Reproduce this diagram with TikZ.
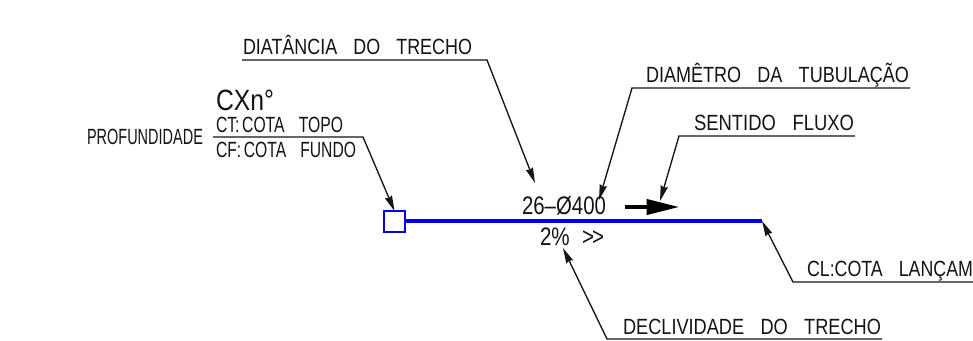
\documentclass[tikz,border=0pt]{standalone}
\usepackage{graphicx}
\usepackage{fontspec}
\setmainfont{Liberation Sans}
\usetikzlibrary{arrows.meta}
\newcommand\fitw[2]{\resizebox{\dimexpr #1pt*3/4\relax}{\height}{#2}}
\newcommand\wsp{\hspace{0.9em}}
\definecolor{cadblue}{RGB}{0,0,235}
\tikzset{
  lbl/.style={anchor=base west,inner sep=0pt,outer sep=0pt,font=\fontsize{16.5pt}{18pt}\selectfont,text=black!92},
  big/.style={font=\fontsize{19pt}{20pt}\selectfont},
  leader/.style={draw=black!92,line width=1pt,line join=miter},
  tip/.style={-{Stealth[length=11.5pt,width=5.5pt,inset=1pt]}},
  pipe/.style={draw=cadblue,line width=3pt},
  mh/.style={draw=cadblue,line width=1.1pt,minimum width=15.7pt,minimum height=15.7pt,inner sep=0pt,outer sep=0pt,fill=white}
}
\begin{document}
\begin{tikzpicture}[x=0.75pt,y=-0.75pt]
\useasboundingbox[fill=white] (0,0) rectangle (973,340);
% labels
\node[lbl] (dist) at (243,54) {\fitw{229}{DIATÂNCIA\wsp DO\wsp TRECHO}};
\node[lbl] (diam) at (646,82) {\fitw{263}{DIAMÊTRO\wsp DA\wsp TUBULAÇÃO}};
\node[lbl] (flow) at (694,130) {\fitw{160}{SENTIDO\wsp FLUXO}};
\node[lbl] (decl) at (623,334) {\fitw{258}{DECLIVIDADE\wsp DO\wsp TRECHO}};
\node[lbl] (cl) at (807,276) {\fitw{166}{CL:COTA\wsp LANÇAM}};
\node[lbl,font=\fontsize{22pt}{23pt}\selectfont] (cx) at (216,110.5) {\fitw{58}{CXn°}};
\node[lbl] (ct) at (216,132) {\fitw{127}{CT:\,COTA\wsp TOPO}};
\node[lbl] (cf) at (216,157) {\fitw{140}{CF:\,COTA\wsp FUNDO}};
\node[lbl] (prof) at (87,144) {\fitw{116}{PROFUNDIDADE}};
\node[lbl,big] (spec) at (522,214) {\fitw{84}{26--Ø400}};
\node[lbl,big] (slope) at (540,245) {\fitw{64}{2\%\hspace{0.6em}{>}\kern-0.1em{>}}};
% manhole and pipe
\node[mh] (pv) at (394.5,221.5) {};
\coordinate (pipeend) at (762,221);
\draw[pipe] (pv.east |- pipeend) -- (pipeend);
% leader bend points
\coordinate (a0) at (242,60);  \coordinate (a1) at (487,60);  \coordinate (a2) at (535,183);
\coordinate (b0) at (910,88);  \coordinate (b1) at (632,88);  \coordinate (b2) at (599,200);
\coordinate (c0) at (855,136); \coordinate (c1) at (679,136); \coordinate (c2) at (660,201);
\coordinate (d0) at (882,339); \coordinate (d1) at (607,339); \coordinate (d2) at (563,248);
\coordinate (e0) at (973,282); \coordinate (e1) at (793,282); 
\coordinate (f0) at (213,137); \coordinate (f1) at (363,137);
\draw[leader,tip] (a0) -- (a1) -- (a2);
\draw[leader,tip] (b0) -- (b1) -- (b2);
\draw[leader,tip] (c0) -- (c1) -- (c2);
\draw[leader,tip] (d0) -- (d1) -- (d2);
\draw[leader,tip] (e0) -- (e1) -- (pipeend);
\draw[leader,tip] (f0) -- (f1) -- (pv.north);
% flow arrow
\coordinate (g0) at (625,207); \coordinate (g1) at (680,207);
\draw[draw=black,line width=3.6pt,-{Triangle[length=25pt,width=11pt]}] (g0) -- (g1);
\end{tikzpicture}
\end{document}
